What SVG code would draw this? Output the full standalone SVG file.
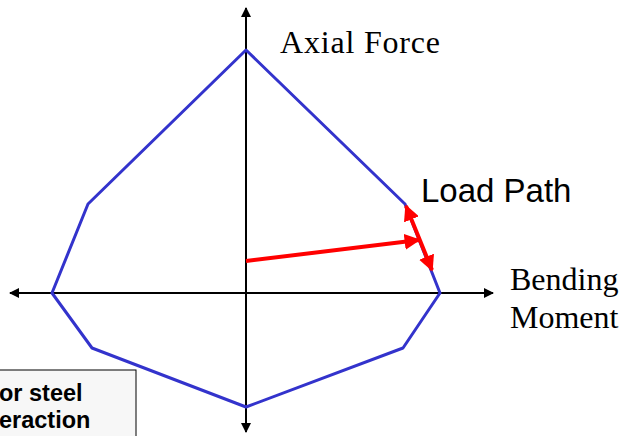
<svg xmlns="http://www.w3.org/2000/svg" width="626" height="436" viewBox="0 0 626 436">
<style>
.ax{stroke:#000;stroke-width:2;fill:none}
.serif{font-family:"Liberation Serif","Times New Roman",serif;font-size:32px;fill:#000}
.sans{font-family:"Liberation Sans",Arial,sans-serif;font-size:33px;fill:#000}
.red{stroke:#f00;stroke-width:4;fill:none}
.note{font-family:"Liberation Sans",Arial,sans-serif;font-size:23.5px;font-weight:bold;fill:#000}
</style>
<defs>
<marker id="ah" viewBox="0 0 10 10" refX="9" refY="5" markerWidth="10" markerHeight="10" markerUnits="userSpaceOnUse" orient="auto-start-reverse"><path d="M0,0 L10,5 L0,10 z" fill="#000"/></marker>
<marker id="rh" viewBox="0 0 10 10" refX="9" refY="5" markerWidth="4" markerHeight="4" orient="auto-start-reverse"><path d="M0,0 L10,5 L0,10 z" fill="#f00"/></marker>
</defs>
<g id="axes">
<line class="ax" x1="246" y1="432" x2="246" y2="8" marker-start="url(#ah)" marker-end="url(#ah)"/>
<line class="ax" x1="10" y1="293" x2="493" y2="293" marker-start="url(#ah)" marker-end="url(#ah)"/>
</g>
<g id="envelope">
<polygon points="246,50 405,204 440,293 403,348 246,407 92,348 52,293 88,204" fill="none" stroke="#3333cc" stroke-width="3" stroke-linejoin="round"/>
</g>
<g id="loadpath">
<line class="red" x1="246" y1="261" x2="419" y2="240" marker-end="url(#rh)"/>
<line class="red" x1="406" y1="206" x2="432" y2="270" marker-start="url(#rh)" marker-end="url(#rh)"/>
</g>
<g id="labels">
<text class="serif" x="280" y="53" textLength="160" lengthAdjust="spacing">Axial Force</text>
<text class="sans" x="421" y="202">Load Path</text>
<text class="serif" x="510" y="290">Bending</text>
<text class="serif" x="510" y="328">Moment</text>
</g>
<g id="note">
<rect x="-10" y="370" width="146" height="80" fill="#f7f7f7" stroke="#000" stroke-width="1"/>
<text class="note" x="-1" y="401">or steel</text>
<text class="note" x="-1" y="428">eraction</text>
</g>
</svg>
